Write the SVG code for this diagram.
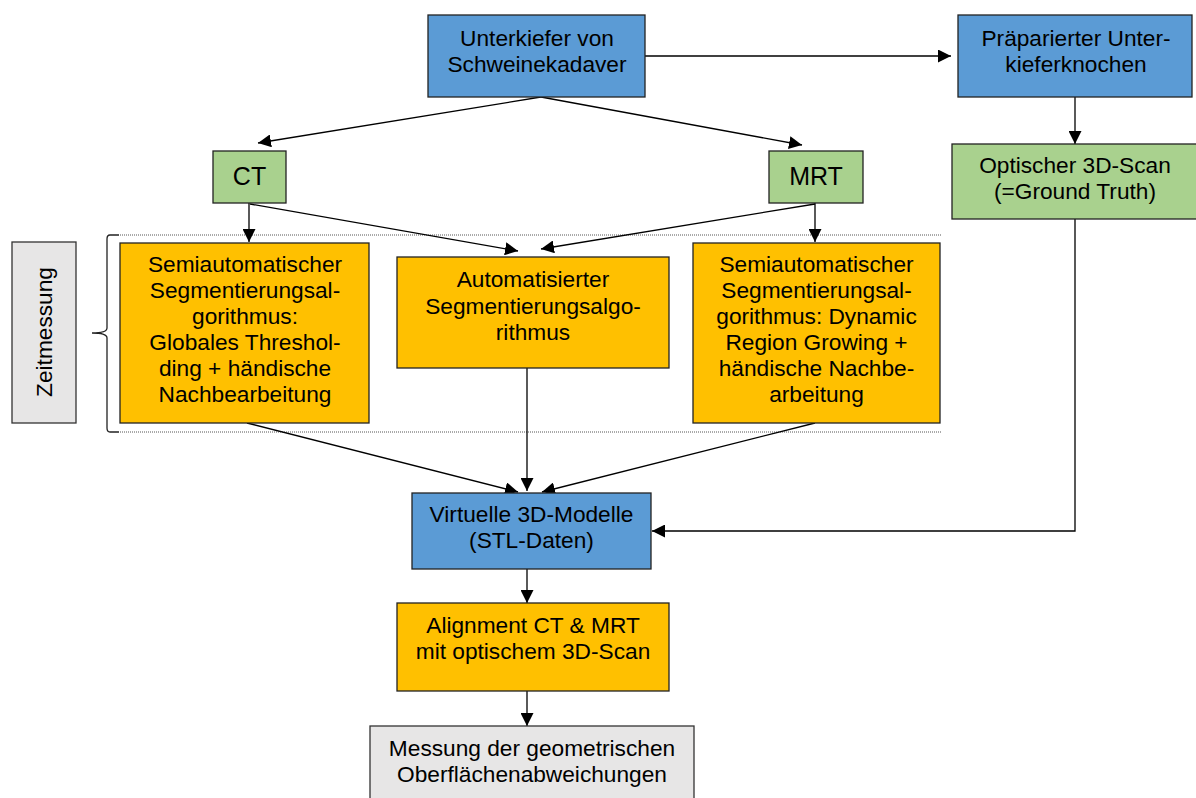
<svg xmlns="http://www.w3.org/2000/svg" width="1196" height="798" viewBox="0 0 1196 798">
<style>
text{font-family:"Liberation Sans",Arial,sans-serif;font-size:22.7px;fill:#000;text-anchor:middle}
.b{fill:#5b9bd5;stroke:#222;stroke-width:1.3}
.g{fill:#a9d18e;stroke:#222;stroke-width:1.3}
.o{fill:#ffc000;stroke:#222;stroke-width:1.3}
.y{fill:#e7e6e6;stroke:#333;stroke-width:1.3}
.c{fill:none;stroke:#000;stroke-width:1.3;marker-end:url(#a)}
.d{fill:none;stroke:#555;stroke-width:1;stroke-dasharray:1 1}
.big{font-size:25px}
</style>
<defs>
<marker id="a" markerUnits="userSpaceOnUse" markerWidth="14" markerHeight="13" refX="13" refY="6.5" orient="auto">
<path d="M0,0 L13,6.5 L0,13 z" fill="#000"/>
</marker>
</defs>
<rect width="1196" height="798" fill="#fff"/>
<g id="zeitmessung-bracket">
<line class="d" x1="120" y1="235" x2="942" y2="235"/>
<line class="d" x1="120" y1="432" x2="942" y2="432"/>
<path d="M119,235 L110,235 Q107,235 107,239 L107,328 Q107,333 92,333 Q107,333 107,338 L107,428 Q107,432 110,432 L119,432" fill="none" stroke="#222" stroke-width="1.3"/>
</g>
<g id="connectors">
<line class="c" x1="645" y1="56" x2="951" y2="56"/>
<line class="c" x1="541" y1="97" x2="258" y2="143"/>
<line class="c" x1="541" y1="97" x2="802" y2="145"/>
<line class="c" x1="1075" y1="97" x2="1075" y2="144"/>
<line class="c" x1="249" y1="203" x2="249" y2="242"/>
<line class="c" x1="250" y1="204" x2="518" y2="251"/>
<line class="c" x1="815" y1="204" x2="541" y2="249"/>
<line class="c" x1="815" y1="203" x2="815" y2="242"/>
<line class="c" x1="247" y1="423" x2="518" y2="492"/>
<line class="c" x1="527" y1="368" x2="527" y2="491"/>
<line class="c" x1="815" y1="423" x2="542" y2="492"/>
<polyline class="c" points="1075,219 1075,531 652,531"/>
<line class="c" x1="527" y1="569" x2="527" y2="603"/>
<line class="c" x1="527" y1="691" x2="527" y2="726"/>
</g>
<g id="unterkiefer">
<rect class="b" x="428" y="15" width="217" height="82"/>
<text x="537" y="46">Unterkiefer von</text>
<text x="537" y="72">Schweinekadaver</text>
</g>
<g id="praepariert">
<rect class="b" x="958" y="15" width="234" height="82"/>
<text x="1076" y="46">Präparierter Unter-</text>
<text x="1076" y="72">kieferknochen</text>
</g>
<g id="ct">
<rect class="g" x="213" y="151" width="73" height="52"/>
<text class="big" x="249.5" y="185">CT</text>
</g>
<g id="mrt">
<rect class="g" x="769" y="151" width="94" height="52"/>
<text class="big" x="816" y="185">MRT</text>
</g>
<g id="optisch">
<rect class="g" x="952" y="144" width="246" height="75"/>
<text x="1075" y="173">Optischer 3D-Scan</text>
<text x="1075" y="199">(=Ground Truth)</text>
</g>
<g id="zeitmessung">
<rect class="y" x="12" y="242" width="64" height="181"/>
<text transform="translate(52,332) rotate(-90)">Zeitmessung</text>
</g>
<g id="semi-ct">
<rect class="o" x="120" y="243" width="249" height="180"/>
<text x="245" y="272">Semiautomatischer</text>
<text x="245" y="298">Segmentierungsal-</text>
<text x="245" y="324">gorithmus:</text>
<text x="245" y="350">Globales Threshol-</text>
<text x="245" y="376">ding + händische</text>
<text x="245" y="402">Nachbearbeitung</text>
</g>
<g id="auto">
<rect class="o" x="397" y="257" width="272" height="111"/>
<text x="533" y="287">Automatisierter</text>
<text x="533" y="314">Segmentierungsalgo-</text>
<text x="533" y="340">rithmus</text>
</g>
<g id="semi-mrt">
<rect class="o" x="693" y="243" width="247" height="180"/>
<text x="816.5" y="272">Semiautomatischer</text>
<text x="816.5" y="298">Segmentierungsal-</text>
<text x="816.5" y="324">gorithmus: Dynamic</text>
<text x="816.5" y="350">Region Growing +</text>
<text x="816.5" y="376">händische Nachbe-</text>
<text x="816.5" y="402">arbeitung</text>
</g>
<g id="virtuell">
<rect class="b" x="412" y="493" width="239" height="76"/>
<text x="531.5" y="522">Virtuelle 3D-Modelle</text>
<text x="531.5" y="548">(STL-Daten)</text>
</g>
<g id="alignment">
<rect class="o" x="397" y="603" width="272" height="88"/>
<text x="533" y="633">Alignment CT &amp; MRT</text>
<text x="533" y="659">mit optischem 3D-Scan</text>
</g>
<g id="messung">
<rect class="y" x="370" y="726" width="324" height="80"/>
<text x="532" y="756">Messung der geometrischen</text>
<text x="532" y="782">Oberflächenabweichungen</text>
</g>
</svg>
